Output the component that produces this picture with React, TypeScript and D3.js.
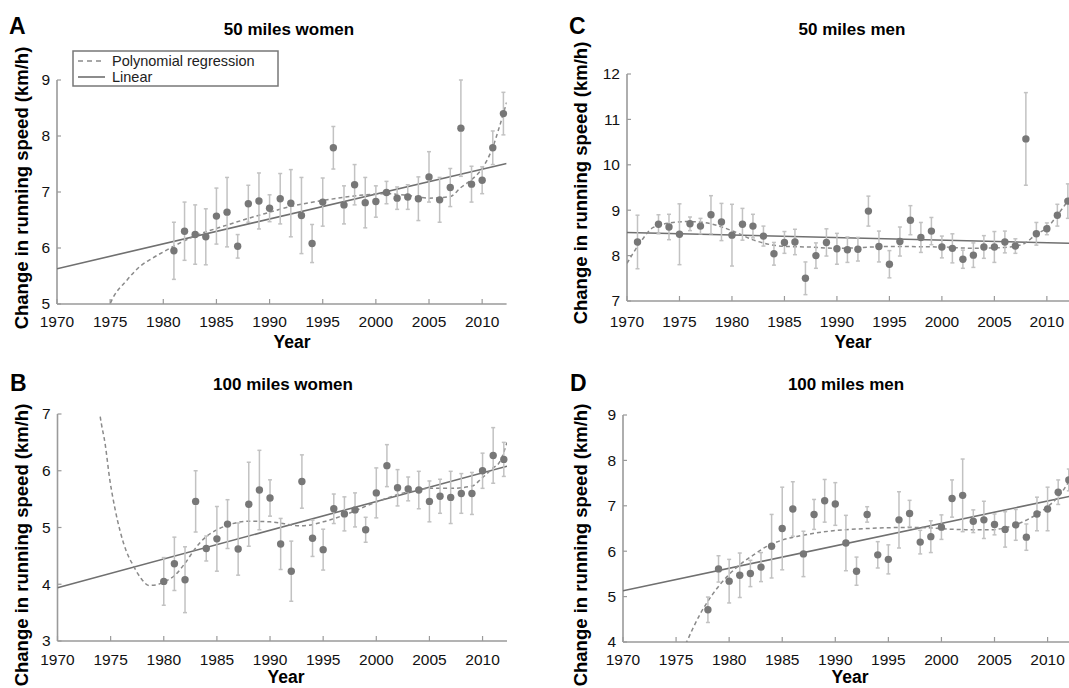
import React from 'react';
import * as d3 from 'd3';

// ---------- Panel A: 50 miles women ----------
const yearsA = [1981, 1982, 1983, 1984, 1985, 1986, 1987, 1988, 1989, 1990, 1991, 1992, 1993, 1994, 1995, 1996, 1997, 1998, 1999, 2000, 2001, 2002, 2003, 2004, 2005, 2006, 2007, 2008, 2009, 2010, 2011, 2012];
const valuesA = [5.95, 6.30, 6.24, 6.20, 6.57, 6.64, 6.03, 6.79, 6.84, 6.71, 6.88, 6.80, 6.58, 6.08, 6.82, 7.79, 6.77, 7.13, 6.81, 6.83, 6.99, 6.89, 6.91, 6.88, 7.27, 6.86, 7.08, 8.14, 7.14, 7.21, 7.79, 8.40];
const errA = [0.51, 0.52, 0.53, 0.50, 0.50, 0.62, 0.21, 0.33, 0.50, 0.24, 0.45, 0.60, 0.68, 0.34, 0.43, 0.38, 0.34, 0.36, 0.45, 0.28, 0.20, 0.20, 0.22, 0.39, 0.45, 0.40, 0.34, 0.86, 0.32, 0.24, 0.30, 0.38];
const polyA: [number, number][] = [[1974.8, 4.9], [1975.0, 5.0], [1976.6, 5.43], [1977.8, 5.67], [1979, 5.82], [1980, 5.93], [1982.8, 6.2], [1986, 6.41], [1989.1, 6.59], [1992.2, 6.75], [1995.4, 6.86], [1998.5, 6.94], [2001, 6.97], [2003, 6.94], [2005, 6.89], [2007, 6.92], [2008, 7.08], [2009, 7.22], [2010, 7.42], [2011, 7.8], [2011.6, 8.15], [2012.3, 8.6]];
const linearA: [number, number][] = [[1970, 5.63], [2012.3, 7.51]];

// ---------- Panel B: 100 miles women ----------
const yearsB = [1980, 1981, 1982, 1983, 1984, 1985, 1986, 1987, 1988, 1989, 1990, 1991, 1992, 1993, 1994, 1995, 1996, 1997, 1998, 1999, 2000, 2001, 2002, 2003, 2004, 2005, 2006, 2007, 2008, 2009, 2010, 2011, 2012];
const valuesB = [4.05, 4.36, 4.08, 5.46, 4.63, 4.80, 5.06, 4.62, 5.41, 5.66, 5.52, 4.71, 4.23, 5.81, 4.81, 4.61, 5.33, 5.24, 5.31, 4.96, 5.61, 6.09, 5.70, 5.68, 5.66, 5.46, 5.55, 5.53, 5.60, 5.60, 6.00, 6.27, 6.20];
const errB = [0.42, 0.47, 0.58, 0.54, 0.22, 0.57, 0.43, 0.46, 0.74, 0.70, 0.32, 0.45, 0.53, 0.47, 0.32, 0.36, 0.26, 0.30, 0.30, 0.22, 0.44, 0.37, 0.32, 0.21, 0.33, 0.36, 0.30, 0.46, 0.35, 0.37, 0.31, 0.49, 0.30];
const polyB: [number, number][] = [[1973.85, 7.2], [1974, 6.98], [1974.5, 6.45], [1974.9, 5.87], [1975.4, 5.34], [1975.9, 4.93], [1976.5, 4.57], [1977.1, 4.34], [1977.8, 4.12], [1978.6, 3.98], [1979.3, 3.99], [1980, 4.04], [1981, 4.15], [1982, 4.37], [1983, 4.64], [1984, 4.84], [1985, 4.96], [1986, 5.04], [1988, 5.11], [1990, 5.10], [1993, 5.03], [1995, 5.10], [1997, 5.22], [2000, 5.45], [2003, 5.63], [2005, 5.69], [2007, 5.69], [2009, 5.73], [2010, 5.88], [2011, 6.05], [2011.6, 6.15], [2012.3, 6.5]];
const linearB: [number, number][] = [[1970, 3.94], [2012.3, 6.08]];

// ---------- Panel C: 50 miles men ----------
const yearsC = [1971, 1973, 1974, 1975, 1976, 1977, 1978, 1979, 1980, 1981, 1982, 1983, 1984, 1985, 1986, 1987, 1988, 1989, 1990, 1991, 1992, 1993, 1994, 1995, 1996, 1997, 1998, 1999, 2000, 2001, 2002, 2003, 2004, 2005, 2006, 2007, 2008, 2009, 2010, 2011, 2012];
const valuesC = [8.30, 8.69, 8.63, 8.47, 8.70, 8.65, 8.90, 8.74, 8.45, 8.69, 8.65, 8.43, 8.04, 8.29, 8.30, 7.50, 8.00, 8.29, 8.15, 8.13, 8.14, 8.98, 8.20, 7.81, 8.31, 8.78, 8.40, 8.54, 8.19, 8.16, 7.92, 8.01, 8.19, 8.19, 8.30, 8.21, 10.57, 8.48, 8.59, 8.89, 9.20];
const errC = [0.59, 0.21, 0.28, 0.67, 0.15, 0.17, 0.42, 0.41, 0.68, 0.35, 0.26, 0.22, 0.25, 0.24, 0.28, 0.36, 0.28, 0.30, 0.34, 0.28, 0.26, 0.33, 0.34, 0.30, 0.32, 0.32, 0.33, 0.30, 0.24, 0.32, 0.20, 0.27, 0.25, 0.34, 0.24, 0.16, 1.02, 0.25, 0.13, 0.24, 0.38];
const polyC: [number, number][] = [[1970, 7.83], [1971.2, 8.27], [1972.5, 8.62], [1974.1, 8.72], [1975.7, 8.75], [1977.3, 8.73], [1978.9, 8.64], [1980.2, 8.53], [1982.1, 8.34], [1983.7, 8.24], [1985.3, 8.20], [1987.2, 8.19], [1990, 8.16], [1995, 8.2], [2000, 8.19], [2003, 8.16], [2006, 8.18], [2007.7, 8.25], [2009, 8.47], [2010, 8.61], [2011, 8.89], [2012, 9.21], [2012.3, 9.32]];
const linearC: [number, number][] = [[1970, 8.51], [2012.3, 8.27]];

// ---------- Panel D: 100 miles men ----------
const yearsD = [1978, 1979, 1980, 1981, 1982, 1983, 1984, 1985, 1986, 1987, 1988, 1989, 1990, 1991, 1992, 1993, 1994, 1995, 1996, 1997, 1998, 1999, 2000, 2001, 2002, 2003, 2004, 2005, 2006, 2007, 2008, 2009, 2010, 2011, 2012];
const valuesD = [4.71, 5.61, 5.34, 5.47, 5.51, 5.65, 6.11, 6.50, 6.93, 5.94, 6.81, 7.11, 7.04, 6.18, 5.56, 6.81, 5.92, 5.82, 6.69, 6.83, 6.20, 6.32, 6.53, 7.16, 7.23, 6.66, 6.69, 6.59, 6.48, 6.58, 6.31, 6.82, 6.93, 7.30, 7.57];
const errD = [0.28, 0.29, 0.48, 0.49, 0.29, 0.32, 0.70, 0.91, 0.60, 0.50, 0.33, 0.47, 0.47, 0.61, 0.31, 0.17, 0.29, 0.32, 0.62, 0.29, 0.26, 0.35, 0.27, 0.41, 0.80, 0.25, 0.41, 0.23, 0.39, 0.34, 0.29, 0.37, 0.48, 0.27, 0.24];
const polyD: [number, number][] = [[1975.9, 3.95], [1977.3, 4.63], [1978.5, 5.07], [1979.8, 5.44], [1981, 5.70], [1982.3, 5.92], [1983.5, 6.10], [1984.8, 6.23], [1986.7, 6.34], [1989.8, 6.45], [1993, 6.50], [1996, 6.52], [1998.2, 6.52], [2001.3, 6.48], [2004.5, 6.47], [2006.4, 6.54], [2008.3, 6.72], [2010, 6.98], [2011, 7.2], [2012, 7.53], [2012.3, 7.65]];
const linearD: [number, number][] = [[1970, 5.13], [2012.3, 7.22]];

// ---------- tick labels ----------
const xTicks = [1970, 1975, 1980, 1985, 1990, 1995, 2000, 2005, 2010];
const yTicksA = [5, 6, 7, 8, 9];
const yTicksB = [3, 4, 5, 6, 7];
const yTicksC = [7, 8, 9, 10, 11, 12];
const yTicksD = [4, 5, 6, 7, 8, 9];
const xDomain = [1970, 2012.3];

const FONT = '"Liberation Sans", Arial, Helvetica, sans-serif';
const AXIS = '#9a9a9a';
const DOT = '#777777';
const ERR = '#c2c2c2';
const LIN = '#707070';
const POLY = '#8a8a8a';

type PanelProps = {
  id: string;
  letter: string;
  title: string;
  x0: number; x1: number; yTop: number; yBottom: number;
  yDomain: [number, number];
  yTicks: number[];
  years: number[]; values: number[]; errs: number[];
  poly: [number, number][]; lin: [number, number][];
  letterPos: [number, number];
  titlePos: [number, number];
  yLabelPos: [number, number];
  yearPos: [number, number];
  tickBaseline: number;
  legend?: boolean;
};

function Panel(p: PanelProps) {
  const x = d3.scaleLinear().domain(xDomain).range([p.x0, p.x1]);
  const y = d3.scaleLinear().domain(p.yDomain).range([p.yBottom, p.yTop]);
  const line = d3.line<[number, number]>().x(d => x(d[0])).y(d => y(d[1]));
  const curve = d3.line<[number, number]>().x(d => x(d[0])).y(d => y(d[1])).curve(d3.curveMonotoneX);
  const clip = `clip-${p.id}`;
  return (
    <g>
      <defs>
        <clipPath id={clip}>
          <rect x={p.x0} y={p.yTop} width={p.x1 - p.x0} height={p.yBottom - p.yTop} />
        </clipPath>
      </defs>
      {/* axes */}
      <line x1={p.x0} x2={p.x1} y1={p.yBottom} y2={p.yBottom} stroke={AXIS} strokeWidth={1.6} />
      <line x1={p.x0} x2={p.x0} y1={p.yBottom} y2={p.yTop} stroke={AXIS} strokeWidth={1.6} />
      {xTicks.map(t => (
        <g key={'xt' + t}>
          <line x1={x(t)} x2={x(t)} y1={p.yBottom} y2={p.yBottom - 5} stroke={AXIS} strokeWidth={1.2} />
          <text x={x(t)} y={p.tickBaseline} textAnchor="middle" fontSize={15.5} fontFamily={FONT} fill="#111">{t}</text>
        </g>
      ))}
      {p.yTicks.map(t => (
        <g key={'yt' + t}>
          <line x1={p.x0} x2={p.x0 + 4} y1={y(t)} y2={y(t)} stroke={AXIS} strokeWidth={1.2} />
          <text x={p.x0 - 7} y={y(t)} dy="0.35em" textAnchor="end" fontSize={15.5} fontFamily={FONT} fill="#111">{t}</text>
        </g>
      ))}
      {/* fitted lines */}
      <g clipPath={`url(#${clip})`}>
        <path d={line(p.lin) || ''} fill="none" stroke={LIN} strokeWidth={1.6} />
        <path d={curve(p.poly) || ''} fill="none" stroke={POLY} strokeWidth={1.5} strokeDasharray="4,3" />
      </g>
      {/* error bars */}
      {p.years.map((yr, i) => {
        const cx = x(yr);
        const hi = y(p.values[i] + p.errs[i]);
        const lo = y(p.values[i] - p.errs[i]);
        return (
          <g key={'e' + yr} stroke={ERR} strokeWidth={1.5}>
            <line x1={cx} x2={cx} y1={hi} y2={lo} />
            <line x1={cx - 2} x2={cx + 2} y1={hi} y2={hi} />
            <line x1={cx - 2} x2={cx + 2} y1={lo} y2={lo} />
          </g>
        );
      })}
      {/* points */}
      {p.years.map((yr, i) => (
        <circle key={'p' + yr} cx={x(yr)} cy={y(p.values[i])} r={3.7} fill={DOT} />
      ))}
      {/* texts */}
      <text x={p.letterPos[0]} y={p.letterPos[1]} fontSize={23} fontWeight="bold" fontFamily={FONT} fill="#000">{p.letter}</text>
      <text x={p.titlePos[0]} y={p.titlePos[1]} textAnchor="middle" fontSize={17} fontWeight="bold" fontFamily={FONT} fill="#000">{p.title}</text>
      <text x={p.yearPos[0]} y={p.yearPos[1]} textAnchor="middle" fontSize={17.5} fontWeight="bold" fontFamily={FONT} fill="#000">Year</text>
      <text transform={`translate(${p.yLabelPos[0]},${p.yLabelPos[1]}) rotate(-90)`} textAnchor="middle" dy="0.35em" fontSize={18.5} fontWeight="bold" fontFamily={FONT} fill="#000">Change in running speed (km/h)</text>
      {p.legend && (
        <g>
          <rect x={73} y={51} width={205} height={35} fill="#fff" stroke="#777" strokeWidth={1.5} />
          <line x1={78} x2={105} y1={61} y2={61} stroke={POLY} strokeWidth={1.6} strokeDasharray="5,4" />
          <line x1={78} x2={105} y1={77} y2={77} stroke={LIN} strokeWidth={1.6} />
          <text x={112} y={66} fontSize={14.5} fontFamily={FONT} fill="#222">Polynomial regression</text>
          <text x={112} y={82} fontSize={14.5} fontFamily={FONT} fill="#222">Linear</text>
        </g>
      )}
    </g>
  );
}

export default function App() {
  return (
    <div style={{ position: 'absolute', left: 0, top: 0, width: 1069, height: 688, overflow: 'hidden', background: '#fff' }}>
      <svg width={1069} height={688} style={{ display: 'block' }}>
        <rect x={0} y={0} width={1069} height={688} fill="#fff" />
        <Panel id="A" letter="A" title="50 miles women" x0={57} x1={506.6} yTop={80} yBottom={304}
          yDomain={[5, 9]} yTicks={yTicksA} years={yearsA} values={valuesA} errs={errA} poly={polyA} lin={linearA}
          letterPos={[9, 34]} titlePos={[289, 35]} yLabelPos={[22, 188]} yearPos={[292, 348]} tickBaseline={327} legend />
        <Panel id="B" letter="B" title="100 miles women" x0={57.5} x1={507} yTop={414} yBottom={641}
          yDomain={[3, 7]} yTicks={yTicksB} years={yearsB} values={valuesB} errs={errB} poly={polyB} lin={linearB}
          letterPos={[10, 391]} titlePos={[283, 390]} yLabelPos={[22, 545]} yearPos={[286, 683]} tickBaseline={665} />
        <Panel id="C" letter="C" title="50 miles men" x0={627} x1={1071} yTop={74} yBottom={301}
          yDomain={[7, 12]} yTicks={yTicksC} years={yearsC} values={valuesC} errs={errC} poly={polyC} lin={linearC}
          letterPos={[569, 34]} titlePos={[852, 35]} yLabelPos={[581, 183]} yearPos={[853, 348]} tickBaseline={327} />
        <Panel id="D" letter="D" title="100 miles men" x0={623} x1={1072} yTop={415} yBottom={642}
          yDomain={[4, 9]} yTicks={yTicksD} years={yearsD} values={valuesD} errs={errD} poly={polyD} lin={linearD}
          letterPos={[570, 391]} titlePos={[846, 390]} yLabelPos={[581, 545]} yearPos={[850, 683]} tickBaseline={665} />
      </svg>
    </div>
  );
}
